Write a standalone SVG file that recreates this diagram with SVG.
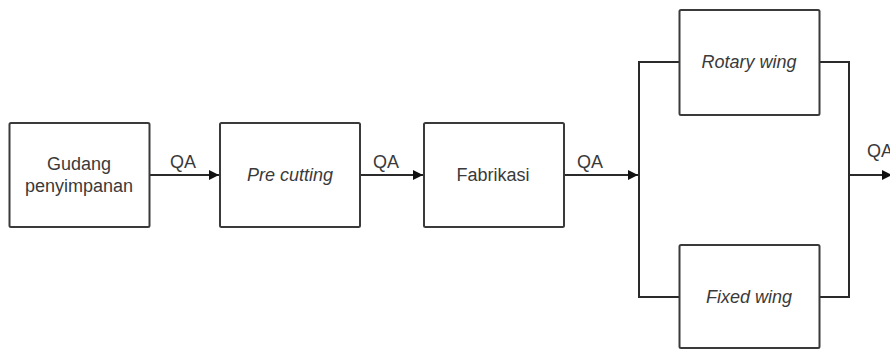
<svg xmlns="http://www.w3.org/2000/svg" width="890" height="352" viewBox="0 0 890 352">
  <style>
    .box { fill: #ffffff; stroke: #3a3a3a; stroke-width: 2; }
    .lbl { font-family: "Liberation Sans", Arial, sans-serif; font-size: 18px; fill: #3a3a3a; text-anchor: middle; }
    .it { font-style: italic; }
    .wire { fill: none; stroke: #2a2a2a; stroke-width: 2; }
  </style>
  <defs>
    <marker id="head" viewBox="0 0 10 10" refX="10" refY="5" markerWidth="14" markerHeight="10" markerUnits="userSpaceOnUse" orient="auto">
      <path d="M0,0 L10,5 L0,10 z" fill="#111111"/>
    </marker>
  </defs>

  <g id="connectors">
    <path class="wire" d="M150,175 H219" marker-end="url(#head)"/>
    <path class="wire" d="M360,175 H423" marker-end="url(#head)"/>
    <path class="wire" d="M564,175 H638" marker-end="url(#head)"/>
    <path class="wire" d="M679,62 H639 V297 H679"/>
    <path class="wire" d="M820,62 H849 V297 H820"/>
    <path class="wire" d="M849,175 H892" marker-end="url(#head)"/>
    <text class="lbl" x="183" y="168">QA</text>
    <text class="lbl" x="386" y="168">QA</text>
    <text class="lbl" x="590" y="168">QA</text>
    <text class="lbl" x="880" y="157">QA</text>
  </g>

  <g id="gudang">
    <rect class="box" x="9.5" y="123" width="140" height="104" rx="1.5"/>
    <text class="lbl" x="79" y="170">Gudang</text>
    <text class="lbl" x="79" y="192">penyimpanan</text>
  </g>

  <g id="pre-cutting">
    <rect class="box" x="220" y="123" width="140" height="104" rx="1.5"/>
    <text class="lbl it" x="290" y="181">Pre cutting</text>
  </g>

  <g id="fabrikasi">
    <rect class="box" x="424" y="123" width="140" height="104" rx="1.5"/>
    <text class="lbl" x="493" y="181">Fabrikasi</text>
  </g>

  <g id="rotary-wing">
    <rect class="box" x="679.5" y="10" width="140" height="105" rx="1.5"/>
    <text class="lbl it" x="749" y="68">Rotary wing</text>
  </g>

  <g id="fixed-wing">
    <rect class="box" x="679.5" y="245" width="140" height="103" rx="1.5"/>
    <text class="lbl it" x="749" y="303">Fixed wing</text>
  </g>
</svg>
